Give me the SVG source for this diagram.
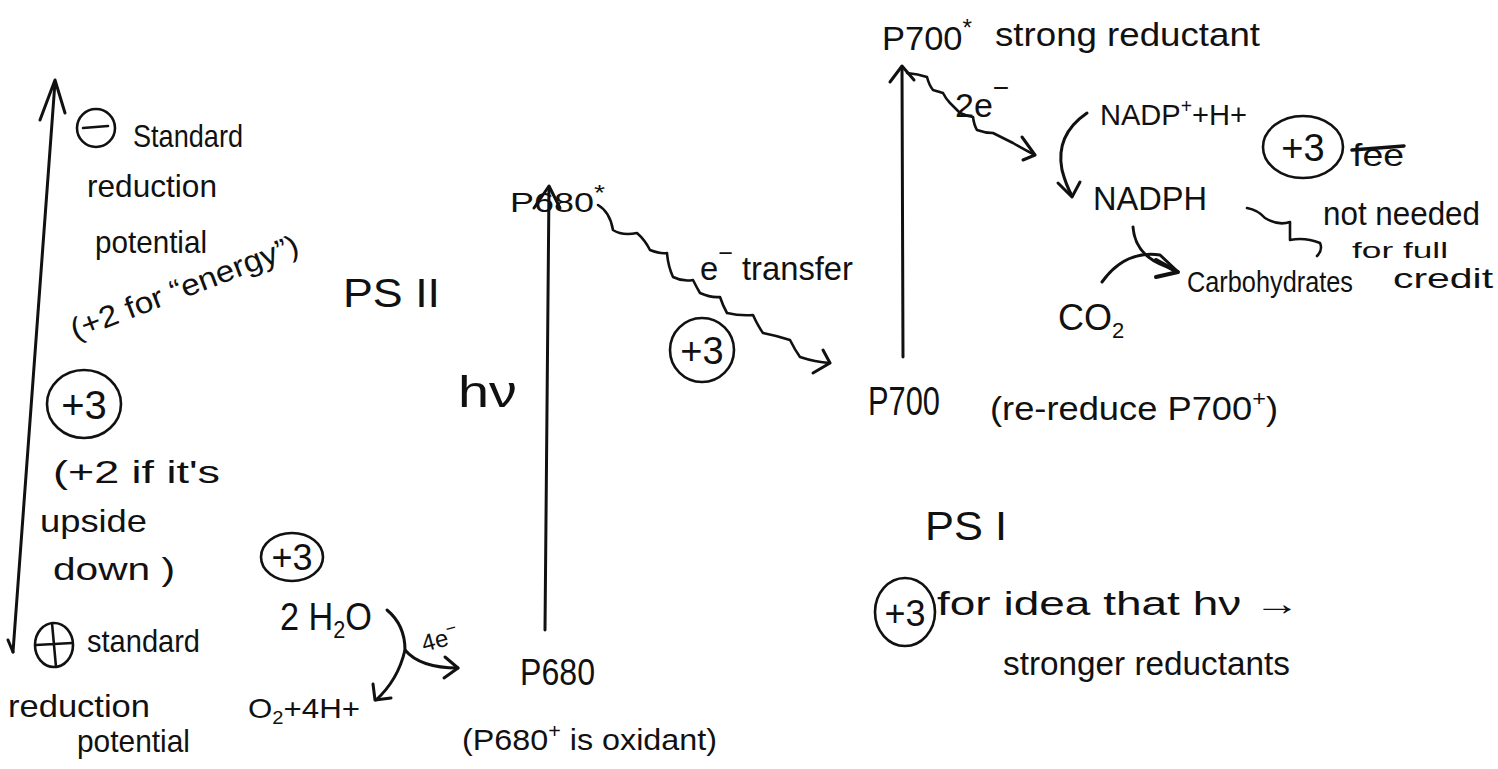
<svg xmlns="http://www.w3.org/2000/svg" width="1498" height="769" viewBox="0 0 1498 769">
<style>
  .t { font-family: "Liberation Sans", "DejaVu Sans", sans-serif; fill: #111; }
  .ln { fill: none; stroke: #111; stroke-width: 3; stroke-linecap: round; stroke-linejoin: round; }
  .wv { fill: none; stroke: #111; stroke-width: 2.6; stroke-linecap: round; stroke-linejoin: round; }
  .arr { fill: none; stroke: #111; stroke-width: 3; stroke-linecap: round; stroke-linejoin: round; }
  .circ { fill: none; stroke: #111; stroke-width: 2.6; }
</style>
<rect width="1498" height="769" fill="#fff"/>

<g id="connectors">
  <!-- left potential axis -->
  <path class="ln" d="M13,652 L55,82"/>
  <path class="arr" d="M40,120 L55,80 L65,113"/>
  <path class="arr" d="M8,640 L13,652"/>
  <!-- PSII excitation arrow -->
  <path class="ln" d="M545,630 L549,187"/>
  <path class="arr" d="M534,208 L549,186 L560,208"/>
  <!-- PSI excitation arrow -->
  <path class="ln" d="M903,357 L902,67"/>
  <path class="arr" d="M890,82 L902,66 L914,80"/>
  <!-- e- transfer wavy -->
  <path class="wv" d="M598,205 Q610,212 613,230 Q622,236 637,233 Q645,240 650,250 Q660,254 667,253 Q668,266 673,277 Q683,282 693,280 Q697,288 700,293 Q711,298 720,297 Q723,306 727,313 Q740,316 753,315 Q758,326 763,333 Q778,336 790,340 Q795,350 800,357 Q815,362 830,363"/>
  <path class="arr" d="M823,350 L830,363 L813,373"/>
  <!-- 2e- wavy -->
  <path class="wv" d="M907,73 Q918,74 927,77 Q929,85 933,90 Q940,92 943,93 Q946,99 950,103 Q955,108 960,113 Q967,116 973,117 Q974,125 977,130 Q985,133 993,133 Q1003,138 1013,143 Q1025,150 1035,155"/>
  <path class="arr" d="M1022,137 L1035,155 L1023,160"/>
  <!-- NADP+ -> NADPH -->
  <path class="ln" d="M1087,113 Q1055,135 1062,170 Q1066,185 1072,196"/>
  <path class="arr" d="M1058,183 L1072,197 L1080,182"/>
  <!-- NADPH -> carbohydrates, CO2 -> carbohydrates -->
  <path class="ln" d="M1133,227 Q1135,255 1165,266 L1177,272"/>
  <path class="ln" d="M1102,282 Q1125,250 1160,255 L1176,270"/>
  <path class="arr" d="M1156,260 L1178,272 L1156,277" style="stroke-width:4"/>
  <!-- water splitting -->
  <path class="ln" d="M387,610 Q405,625 405,650 Q420,668 458,668"/>
  <path class="arr" d="M445,657 L458,668 L444,678"/>
  <path class="ln" d="M405,650 Q398,680 376,700"/>
  <path class="arr" d="M373,684 L375,700 L391,698"/>
  <!-- "not needed" squiggle -->
  <path class="wv" d="M1247,208 Q1258,210 1265,218 Q1278,226 1290,222 L1290,240 Q1305,237 1320,243 Q1323,250 1317,256"/>
  <!-- arrow in "for idea that hv ->" drawn as text -->
</g>

<g id="axis-labels">
  <g id="minus-sign">
    <circle class="circ" cx="96" cy="128" r="19"/>
    <path class="ln" d="M83,128 L108,126" style="stroke-width:2.6"/>
  </g>
  <text class="t" x="133" y="147" font-size="32" textLength="110" lengthAdjust="spacingAndGlyphs">Standard</text>
  <text class="t" x="87" y="197" font-size="32" textLength="130" lengthAdjust="spacingAndGlyphs">reduction</text>
  <text class="t" x="95" y="253" font-size="32" textLength="112" lengthAdjust="spacingAndGlyphs">potential</text>
  <text class="t" x="75" y="340" font-size="30" transform="rotate(-21 75 340)" textLength="242" lengthAdjust="spacingAndGlyphs">(+2 for “energy”)</text>
  <g id="score-left">
    <ellipse class="circ" cx="84" cy="404" rx="37" ry="34"/>
    <text class="t" x="84" y="419" font-size="40" text-anchor="middle">+3</text>
  </g>
  <text class="t" x="53" y="483" font-size="32" textLength="167" lengthAdjust="spacingAndGlyphs">(+2 if it's</text>
  <text class="t" x="40" y="532" font-size="32" textLength="107" lengthAdjust="spacingAndGlyphs">upside</text>
  <text class="t" x="53" y="580" font-size="32" textLength="122" lengthAdjust="spacingAndGlyphs">down )</text>
  <g id="plus-sign">
    <ellipse class="circ" cx="54" cy="645" rx="19" ry="22"/>
    <path class="ln" d="M36,645 L72,643 M52,623 L56,667" style="stroke-width:2.6"/>
  </g>
  <text class="t" x="87" y="652" font-size="32" textLength="113" lengthAdjust="spacingAndGlyphs">standard</text>
  <text class="t" x="8" y="717" font-size="32" textLength="142" lengthAdjust="spacingAndGlyphs">reduction</text>
  <text class="t" x="77" y="752" font-size="32" textLength="113" lengthAdjust="spacingAndGlyphs">potential</text>
</g>

<g id="psii">
  <text class="t" x="343" y="307" font-size="40" textLength="97" lengthAdjust="spacingAndGlyphs">PS II</text>
  <text class="t" x="458" y="407" font-size="44" textLength="59" lengthAdjust="spacingAndGlyphs">hν</text>
  <text class="t" x="510" y="212" font-size="28" textLength="95" lengthAdjust="spacingAndGlyphs">P680<tspan dy="-12" font-size="22">*</tspan></text>
  <text class="t" x="700" y="280" font-size="34" textLength="153" lengthAdjust="spacingAndGlyphs">e<tspan dy="-18" font-size="26">−</tspan><tspan dy="18"> transfer</tspan></text>
  <g id="score-etransfer">
    <circle class="circ" cx="702" cy="350" r="32"/>
    <text class="t" x="702" y="364" font-size="38" text-anchor="middle">+3</text>
  </g>
  <g id="score-water">
    <ellipse class="circ" cx="292" cy="557" rx="31" ry="24"/>
    <text class="t" x="292" y="570" font-size="36" text-anchor="middle">+3</text>
  </g>
  <text class="t" x="280" y="630" font-size="38" textLength="92" lengthAdjust="spacingAndGlyphs">2 H<tspan dy="8" font-size="24">2</tspan><tspan dy="-8">O</tspan></text>
  <text class="t" x="424" y="652" font-size="24" transform="rotate(-15 424 652)">4e<tspan dy="-10" font-size="18">−</tspan></text>
  <text class="t" x="248" y="718" font-size="28" textLength="112" lengthAdjust="spacingAndGlyphs">O<tspan dy="6" font-size="18">2</tspan><tspan dy="-6">+4H+</tspan></text>
  <text class="t" x="520" y="685" font-size="36" textLength="75" lengthAdjust="spacingAndGlyphs">P680</text>
  <text class="t" x="462" y="750" font-size="30" textLength="255" lengthAdjust="spacingAndGlyphs">(P680<tspan dy="-12" font-size="20">+</tspan><tspan dy="12"> is oxidant)</tspan></text>
</g>

<g id="psi">
  <text class="t" x="882" y="50" font-size="34" textLength="90" lengthAdjust="spacingAndGlyphs">P700<tspan dy="-14" font-size="24">*</tspan></text>
  <text class="t" x="995" y="46" font-size="34" textLength="265" lengthAdjust="spacingAndGlyphs">strong reductant</text>
  <text class="t" x="955" y="117" font-size="34">2e<tspan dy="-20" font-size="28">−</tspan></text>
  <text class="t" x="1100" y="125" font-size="30" textLength="147" lengthAdjust="spacingAndGlyphs">NADP<tspan dy="-12" font-size="20">+</tspan><tspan dy="12">+H+</tspan></text>
  <text class="t" x="1093" y="210" font-size="34" textLength="114" lengthAdjust="spacingAndGlyphs">NADPH</text>
  <g id="score-nadph">
    <ellipse class="circ" cx="1303" cy="147" rx="40" ry="31"/>
    <text class="t" x="1303" y="161" font-size="38" text-anchor="middle">+3</text>
  </g>
  <text class="t" x="1352" y="166" font-size="32" textLength="52" lengthAdjust="spacingAndGlyphs">fee</text>
  <path class="ln" d="M1352,150 L1404,146" style="stroke-width:3.5"/>
  <text class="t" x="1323" y="225" font-size="34" textLength="157" lengthAdjust="spacingAndGlyphs">not needed</text>
  <text class="t" x="1352" y="258" font-size="22" textLength="96" lengthAdjust="spacingAndGlyphs">for full</text>
  <text class="t" x="1187" y="292" font-size="30" textLength="166" lengthAdjust="spacingAndGlyphs">Carbohydrates</text>
  <text class="t" x="1393" y="288" font-size="28" textLength="100" lengthAdjust="spacingAndGlyphs">credit</text>
  <text class="t" x="1058" y="330" font-size="36">CO<tspan dy="8" font-size="22">2</tspan></text>
  <text class="t" x="868" y="415" font-size="40" textLength="72" lengthAdjust="spacingAndGlyphs">P700</text>
  <text class="t" x="990" y="420" font-size="34" textLength="288" lengthAdjust="spacingAndGlyphs">(re-reduce P700<tspan dy="-14" font-size="22">+</tspan><tspan dy="14">)</tspan></text>
  <text class="t" x="925" y="540" font-size="40" textLength="82" lengthAdjust="spacingAndGlyphs">PS I</text>
  <g id="score-psi">
    <ellipse class="circ" cx="905" cy="612" rx="30" ry="34"/>
    <text class="t" x="905" y="626" font-size="36" text-anchor="middle">+3</text>
  </g>
  <text class="t" x="937" y="615" font-size="34" textLength="363" lengthAdjust="spacingAndGlyphs">for idea that hν →</text>
  <text class="t" x="1003" y="675" font-size="34" textLength="287" lengthAdjust="spacingAndGlyphs">stronger reductants</text>
</g>
</svg>
